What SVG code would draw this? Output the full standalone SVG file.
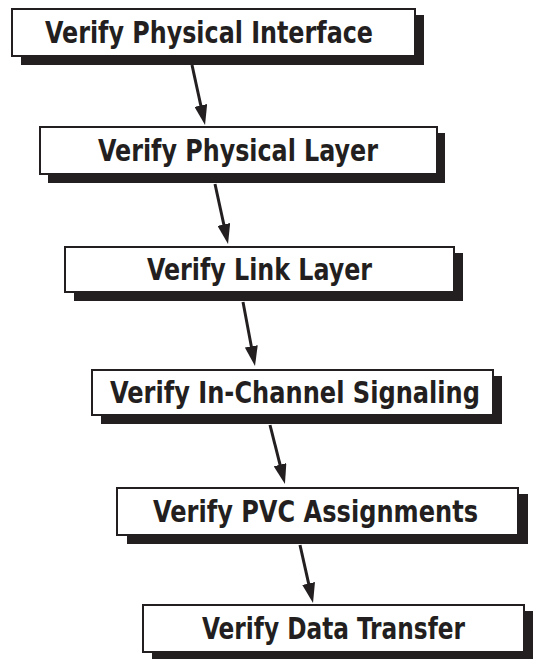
<svg xmlns="http://www.w3.org/2000/svg" width="546" height="659" viewBox="0 0 546 659">
<style>
.shadow{fill:#231f20}
.box{fill:#ffffff;stroke:#231f20;stroke-width:2}
.label{font-family:"Liberation Sans Narrow","DejaVu Sans Condensed","Liberation Sans",sans-serif;font-weight:bold;font-size:30px;fill:#231f20;text-anchor:middle}
.conn{stroke:#231f20;stroke-width:3;fill:none;marker-end:url(#arrow)}
</style>
<defs>
<marker id="arrow" markerUnits="userSpaceOnUse" markerWidth="20" markerHeight="13" refX="8" refY="6.5" orient="auto">
<path d="M0,0 L20,6.5 L0,13 z" fill="#231f20"/>
</marker>
</defs>
<rect width="546" height="659" fill="#ffffff"/>
<g id="connectors">
<path class="conn" d="M192,65 L202.5,113.3"/>
<path class="conn" d="M215,184 L225.5,232.3"/>
<path class="conn" d="M243,302 L252.8,354.2"/>
<path class="conn" d="M270,425 L282,472.4"/>
<path class="conn" d="M300,545 L310.4,591.3"/>
</g>
<g id="node1">
<rect class="shadow" x="21" y="15" width="403" height="50"/>
<rect class="box" x="12" y="9" width="403" height="47"/>
<text class="label" x="209" y="43" textLength="328" lengthAdjust="spacingAndGlyphs">Verify Physical Interface</text>
</g>
<g id="node2">
<rect class="shadow" x="48" y="133" width="397" height="50"/>
<rect class="box" x="40" y="127" width="397" height="47"/>
<text class="label" x="238" y="161" textLength="280" lengthAdjust="spacingAndGlyphs">Verify Physical Layer</text>
</g>
<g id="node3">
<rect class="shadow" x="74" y="253" width="389" height="48"/>
<rect class="box" x="65" y="247" width="389" height="45"/>
<text class="label" x="259.5" y="280" textLength="225" lengthAdjust="spacingAndGlyphs">Verify Link Layer</text>
</g>
<g id="node4">
<rect class="shadow" x="101" y="376" width="401" height="48"/>
<rect class="box" x="92" y="370" width="401" height="45"/>
<text class="label" x="295" y="403" textLength="370" lengthAdjust="spacingAndGlyphs">Verify In-Channel Signaling</text>
</g>
<g id="node5">
<rect class="shadow" x="127" y="494" width="401" height="50"/>
<rect class="box" x="117" y="488" width="401" height="47"/>
<text class="label" x="315.5" y="522" textLength="325" lengthAdjust="spacingAndGlyphs">Verify PVC Assignments</text>
</g>
<g id="node6">
<rect class="shadow" x="152" y="611" width="381" height="50"/>
<rect class="box" x="143" y="605" width="381" height="47"/>
<text class="label" x="333.5" y="639" textLength="263" lengthAdjust="spacingAndGlyphs">Verify Data Transfer</text>
</g>
</svg>
